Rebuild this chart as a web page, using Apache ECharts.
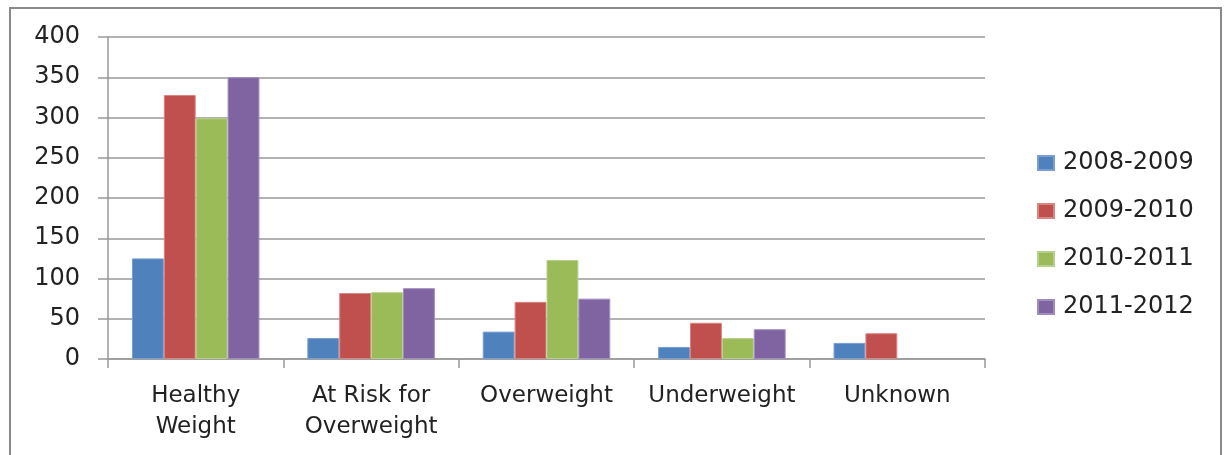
<!DOCTYPE html>
<html><head><meta charset="utf-8">
<script src="https://cdn.jsdelivr.net/npm/echarts@6/dist/echarts.min.js"></script>
<style>html,body{margin:0;padding:0;background:#fff}#c{width:1227px;height:455px}</style>
</head><body><div id="c"></div>
<script>
const categories = ['Healthy\nWeight', 'At Risk for\nOverweight', 'Overweight', 'Underweight', 'Unknown'];
const seriesNames = ['2008-2009', '2009-2010', '2010-2011', '2011-2012'];
const s2008 = [125, 26, 34, 15, 20];
const s2009 = [328, 82, 71, 45, 32];
const s2010 = [299, 83, 123, 26, null];
const s2011 = [350, 88, 75, 37, null];
const yTicks = [0, 50, 100, 150, 200, 250, 300, 350, 400];
const colors = ['#4F81BD', '#C0504D', '#9BBB59', '#8064A2'];
const borders = ['#7A9FD0', '#D98583', '#B7D08A', '#A08DC0'];
const values = [s2008, s2009, s2010, s2011];

const chart = echarts.init(document.getElementById('c'));
chart.setOption({
  animation: false,
  color: colors,
  grid: { left: 108, right: 242, top: 37, bottom: 96 },
  legend: {
    orient: 'vertical', left: 1032, top: 146, itemGap: 24, itemWidth: 16, itemHeight: 14,
    icon: 'rect',
    textStyle: { fontFamily: 'DejaVu Sans', fontSize: 24, lineHeight: 24, color: '#222', padding: [0, 0, 0, 4] },
    data: seriesNames
  },
  xAxis: {
    type: 'category', data: categories,
    axisLine: { lineStyle: { color: '#999', width: 1.5 } },
    axisTick: { show: true, length: 9, lineStyle: { color: '#999', width: 1.5 } },
    axisLabel: { fontFamily: 'DejaVu Sans', fontSize: 23, color: '#222', margin: 22, lineHeight: 31, interval: 0 }
  },
  yAxis: {
    type: 'value', min: 0, max: 400, interval: 50,
    axisLine: { show: true, lineStyle: { color: '#999', width: 1.5 } },
    axisTick: { show: true, length: 10, lineStyle: { color: '#999', width: 1.5 } },
    splitLine: { lineStyle: { color: '#999', width: 1.5 } },
    axisLabel: { fontFamily: 'DejaVu Sans', fontSize: 24, color: '#222', margin: 28,
      formatter: v => yTicks.includes(v) ? String(v) : '' }
  },
  graphic: [{ type: 'rect', shape: { x: 10, y: 8, width: 1211, height: 460 }, style: { fill: 'none', stroke: '#8a8a8a', lineWidth: 2 } }],
  series: seriesNames.map((n, i) => ({
    name: n, type: 'bar', data: values[i], barGap: '0%', barCategoryGap: '27.3%',
    itemStyle: { color: colors[i], borderColor: borders[i], borderWidth: 1 }
  }))
});
</script></body></html>
